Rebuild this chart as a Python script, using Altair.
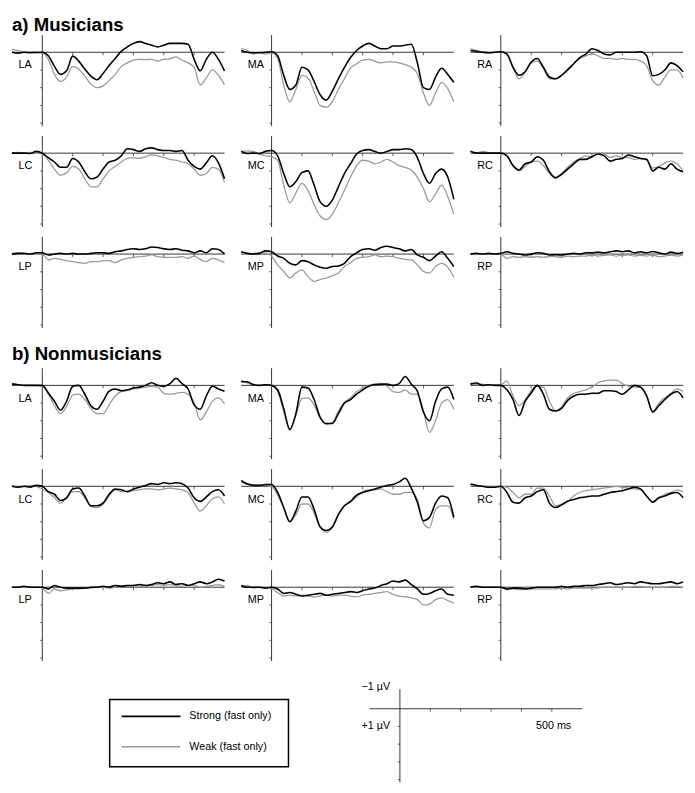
import altair as alt
import pandas as pd

FONT = "Liberation Sans"

# time axis (ms)
T = [-100, -80, -60, -40, -20, 0,
     20, 40, 60, 80, 100, 120, 140, 160, 180, 200,
     220, 240, 260, 280, 300, 320, 340, 360, 380, 400,
     420, 440, 460, 480, 500, 520, 540, 560, 580, 600]

# ---- a) Musicians (µV, negative plotted up) ----
A_LA_S = [0, 0.05, 0, 0.02, 0.02, 0,
          0.2, 0.8, 1.25, 1.05, 0.22, 0.5, 0.95, 1.35, 1.55, 1.2,
          0.75, 0.35, -0.05, -0.3, -0.5, -0.6, -0.5, -0.4, -0.3, -0.4,
          -0.5, -0.5, -0.5, -0.45, 0.4, 1.05, 0.4, 0, 0.4, 1.05]
A_LA_W = [-0.15, -0.1, 0, 0.03, 0, 0.03,
          0.4, 1.25, 1.65, 1.4, 0.8, 0.95, 1.35, 1.8, 2.0, 1.9,
          1.6, 1.25, 0.8, 0.6, 0.45, 0.4, 0.42, 0.4, 0.5, 0.4,
          0.37, 0.26, 0.45, 0.6, 0.85, 1.85, 1.45, 1.0, 1.3, 1.85]
A_MA_S = [-0.1, 0, 0.03, 0.03, 0, -0.03,
          0.2, 1.3, 2.1, 1.85, 0.85, 1.0, 1.65, 2.4, 2.7, 2.2,
          1.5, 0.85, 0.3, -0.1, -0.35, -0.5, -0.35, -0.2, -0.2, -0.35,
          -0.35, -0.4, -0.45, 0.6, 2.0, 2.1, 1.4, 0.9, 1.25, 1.7]
A_MA_W = [-0.2, -0.1, 0.1, 0, 0.1, 0.03,
          0.35, 1.85, 2.8, 2.1, 1.3, 1.45, 2.2, 3.0, 3.1, 2.8,
          2.1, 1.5, 0.9, 0.65, 0.45, 0.4, 0.5, 0.6, 0.55, 0.55,
          0.6, 0.7, 0.85, 1.2, 2.3, 3.0, 2.3, 1.7, 2.05, 2.8]
A_RA_S = [-0.1, -0.05, 0, 0.03, 0, -0.03,
          0.1, 0.85, 1.3, 1.1, 0.55, 0.35, 0.85, 1.4, 1.5, 1.3,
          1.0, 0.65, 0.3, 0.1, -0.2, -0.1, 0.1, 0.15, 0, 0,
          0, 0, -0.03, 0.2, 1.33, 1.25, 1.0, 0.6, 0.75, 1.1]
A_RA_W = [-0.2, -0.1, 0, 0.03, 0, 0,
          0.1, 0.85, 1.5, 1.1, 0.6, 0.5, 0.9, 1.5, 1.5, 1.3,
          0.95, 0.65, 0.35, 0.2, 0.1, 0.2, 0.35, 0.35, 0.4, 0.35,
          0.4, 0.4, 0.5, 0.75, 1.6, 1.85, 1.4, 1.0, 1.0, 1.45]
A_LC_S = [0, 0, 0, 0.02, -0.1, 0,
          0.25, 0.5, 0.8, 0.8, 0.3, 0.5, 1.05, 1.45, 1.35, 0.9,
          0.5, 0.4, 0.15, -0.25, -0.2, -0.1, -0.25, -0.3, -0.2, -0.15,
          -0.15, -0.1, -0.15, 0.4, 0.75, 0.9, 0.55, 0.15, 0.55, 1.45]
A_LC_W = [0, -0.05, 0, -0.05, 0, 0.05,
          0.4, 0.9, 1.25, 1.1, 0.75, 0.9, 1.45, 1.9, 1.9, 1.45,
          1.0, 0.75, 0.5, 0.3, 0.25, 0.3, 0.2, 0.1, 0.15, 0.25,
          0.35, 0.4, 0.5, 0.6, 0.9, 1.25, 1.15, 0.8, 0.9, 1.65]
A_MC_S = [-0.1, 0.02, 0, 0.02, -0.1, -0.15,
          0.15, 1.15, 1.9, 1.6, 1.1, 1.0, 1.8, 2.75, 3.0, 2.65,
          1.9, 1.15, 0.6, 0.05, -0.15, -0.2, -0.1, 0, -0.1, -0.2,
          -0.2, -0.25, -0.2, 0.25, 1.15, 1.7, 1.15, 0.9, 1.35, 2.6]
A_MC_W = [-0.1, -0.13, -0.1, 0.05, 0.15, 0.2,
          0.4, 1.8, 2.8, 2.25, 1.7, 2.1, 2.9, 3.55, 3.75, 3.45,
          2.8, 2.1, 1.35, 0.7, 0.4, 0.45, 0.6, 0.5, 0.35, 0.5,
          0.7, 0.8, 0.95, 1.35, 2.0, 2.75, 2.3, 1.8, 2.45, 3.45]
A_RC_S = [-0.1, 0, 0, 0, 0, 0,
          0.15, 0.7, 0.95, 0.6, 0.5, 0.2, 0.4, 1.05, 1.4, 1.2,
          0.9, 0.6, 0.35, 0.35, 0.2, 0.05, 0.15, 0.45, 0.35, 0.3,
          0.1, 0.2, 0.3, 0.35, 1.0, 0.8, 0.9, 0.6, 0.9, 1.05]
A_RC_W = [-0.13, -0.03, -0.1, -0.03, 0, 0,
          0.15, 0.75, 1.0, 0.75, 0.5, 0.45, 0.7, 1.15, 1.35, 1.15,
          0.8, 0.5, 0.3, 0.15, 0.2, 0, 0.05, 0.25, 0.15, 0.25,
          0.25, 0.35, 0.3, 0.4, 0.85, 0.75, 0.55, 0.45, 0.6, 1.0]
A_LP_S = [0, -0.04, -0.04, 0, -0.07, -0.07,
          0.05, 0, -0.04, 0, -0.04, 0, 0, -0.04, -0.07, -0.07,
          -0.04, -0.13, -0.18, -0.26, -0.3, -0.26, -0.3, -0.4, -0.37, -0.3,
          -0.26, -0.3, -0.22, -0.18, -0.07, -0.18, -0.07, -0.3, -0.26, 0]
A_LP_W = [-0.04, -0.07, 0, -0.04, 0, 0,
          0.33, 0.24, 0.3, 0.37, 0.43, 0.48, 0.52, 0.43, 0.43, 0.37,
          0.37, 0.48, 0.33, 0.24, 0.18, 0.15, 0.11, 0.05, 0.15, 0.18,
          0.18, 0.18, 0.15, 0.24, 0.11, 0.3, 0.43, 0.24, 0.33, 0.48]
A_MP_S = [-0.13, -0.04, 0, -0.04, -0.18, -0.13,
          0.11, 0.24, 0.52, 0.61, 0.37, 0.43, 0.61, 0.74, 0.8, 0.7,
          0.67, 0.52, 0.15, -0.07, -0.26, -0.3, -0.22, -0.37, -0.44, -0.37,
          -0.3, -0.18, -0.26, 0.05, 0.18, 0.37, 0.11, -0.13, 0.24, 0.7]
A_MP_W = [-0.07, 0, -0.04, -0.07, -0.07, 0.11,
          0.61, 0.98, 1.35, 1.07, 0.89, 1.26, 1.54, 1.44, 1.35, 1.22,
          1.07, 0.7, 0.48, 0.24, 0.18, 0.15, 0.05, 0.15, 0.11, 0.15,
          0.24, 0.3, 0.33, 0.61, 0.98, 1.07, 0.7, 0.52, 0.74, 1.3]
A_RP_S = [0, -0.04, 0, -0.04, 0, -0.04,
          -0.13, -0.04, 0, 0.05, 0, -0.07, -0.04, 0.05, 0.04, 0.05,
          0, -0.04, 0, -0.07, -0.07, -0.11, -0.07, -0.13, -0.18, -0.13,
          -0.18, -0.07, -0.13, -0.07, -0.15, -0.07, 0, -0.11, -0.04, -0.11]
A_RP_W = [0, 0, 0, 0, 0, 0,
          0.24, 0.15, 0.18, 0.15, 0.18, 0.15, 0.18, 0.15, 0.15, 0.18,
          0.11, 0.15, 0.11, 0.11, 0.07, 0.11, 0.07, 0.05, 0.11, 0.07,
          0.05, 0.11, 0.07, 0.11, 0.05, 0.15, 0.11, 0.07, 0.11, 0.04]

# ---- b) Nonmusicians ----
B_LA_S = [-0.07, -0.04, 0, 0, 0, 0,
          0.43, 0.9, 1.4, 0.9, 0.05, 0, 0.5, 1.15, 1.35, 0.9,
          0.33, 0.2, 0.3, 0.25, 0.15, 0.1, 0, -0.15, 0, 0.05,
          -0.1, -0.4, -0.1, 0.2, 1.1, 1.35, 0.6, 0.05, 0.2, 0.33]
B_LA_W = [-0.13, -0.04, 0, 0, 0, 0.05,
          0.5, 1.15, 1.6, 1.2, 0.55, 0.5, 0.8, 1.3, 1.6, 1.6,
          1.1, 0.6, 0.35, 0.3, 0.2, 0.15, 0.1, 0.05, 0.1, 0.45,
          0.5, 0.45, 0.4, 0.5, 1.0, 1.95, 1.5, 0.9, 0.7, 1.05]
B_MA_S = [-0.2, -0.2, -0.04, 0, -0.04, 0,
          0.25, 1.3, 2.5, 1.6, 0.1, 0.15, 0.8, 1.8, 2.15, 2.15,
          1.6, 1.0, 0.8, 0.5, 0.25, 0.05, -0.05, -0.07, -0.07, 0,
          -0.1, -0.5, -0.07, 0.33, 1.5, 2.0, 0.9, 0.2, 0.1, 0.8]
B_MA_W = [-0.3, -0.13, -0.07, 0, -0.04, 0,
          0.35, 1.5, 2.5, 1.7, 0.75, 0.7, 1.1, 1.85, 2.2, 2.1,
          1.45, 0.95, 0.7, 0.35, 0.15, 0, -0.07, -0.04, 0.05, 0.35,
          0.4, 0.25, 0.5, 0.5, 1.45, 2.65, 2.0, 1.0, 0.8, 1.35]
B_RA_S = [-0.07, -0.13, 0, -0.04, 0, 0,
          0.25, 0.8, 1.7, 0.9, 0.43, 0, 0.5, 1.35, 1.45, 1.3,
          0.85, 0.6, 0.5, 0.5, 0.45, 0.45, 0.3, 0.3, 0.35, 0.5,
          0.25, 0, 0.1, 0.6, 1.5, 1.15, 0.8, 0.5, 0.35, 0.7]
B_RA_W = [-0.13, -0.04, -0.07, 0, -0.04, -0.04,
          -0.25, 0.6, 1.15, 0.8, 0.3, 0.05, 0.1, 0.9, 1.45, 1.2,
          0.7, 0.45, 0.35, 0.25, 0.1, -0.15, -0.25, -0.3, -0.3, -0.1,
          0.05, 0.1, 0.1, 0.55, 1.5, 1.0, 0.7, 0.45, 0.2, 0.35]
B_LC_S = [0, 0.05, 0, 0.05, -0.05, 0,
          0.3, 0.45, 0.8, 0.65, 0.15, 0.1, 0.55, 1.1, 1.1, 0.95,
          0.45, 0.15, 0.2, 0.3, 0.15, 0.05, -0.05, -0.15, -0.1, -0.2,
          -0.15, -0.2, -0.15, 0.1, 0.65, 0.85, 0.6, 0.3, 0.2, 0.55]
B_LC_W = [-0.05, 0.05, 0, -0.05, 0, 0.15,
          0.35, 0.65, 0.95, 0.65, 0.3, 0.3, 0.65, 1.15, 1.2, 1.0,
          0.55, 0.2, 0.3, 0.3, 0.25, 0.2, 0.15, 0.15, 0.2, 0.15,
          0.1, 0.15, 0.2, 0.35, 0.95, 1.4, 1.1, 0.7, 0.6, 1.0]
B_MC_S = [-0.3, -0.13, -0.05, -0.05, -0.1, -0.1,
          0.35, 1.2, 2.0, 1.4, 0.6, 0.6, 1.3, 2.3, 2.5, 2.3,
          1.6, 1.1, 0.85, 0.5, 0.35, 0.25, 0.15, 0.05, -0.05, -0.1,
          -0.25, -0.45, 0.1, 0.9, 1.95, 1.75, 0.95, 0.55, 0.65, 1.75]
B_MC_W = [-0.35, -0.15, -0.1, -0.05, -0.05, 0,
          0.5, 1.2, 2.0, 1.6, 1.0, 1.0, 1.5, 2.3, 2.6, 2.3,
          1.6, 1.1, 0.9, 0.6, 0.3, 0.2, 0.2, 0.15, 0.3, 0.45,
          0.45, 0.35, 0.35, 0.75, 2.1, 2.35, 1.3, 1.1, 1.1, 1.85]
B_RC_S = [-0.13, -0.05, 0, 0.05, 0.05, 0,
          0.35, 0.9, 0.95, 0.65, 0.55, 0.3, 0.2, 0.95, 1.2, 1.05,
          0.85, 0.75, 0.65, 0.6, 0.55, 0.55, 0.45, 0.35, 0.3, 0.25,
          0.15, 0.05, 0.15, 0.55, 0.9, 0.65, 0.55, 0.4, 0.35, 0.65]
B_RC_W = [-0.1, -0.05, 0, 0, 0.05, 0,
          0.05, 0.35, 0.65, 0.45, 0.45, 0.1, 0.1, 0.55, 1.1, 1.0,
          0.85, 0.55, 0.35, 0.25, 0.2, 0.15, 0.1, 0.05, 0, 0.05,
          0.1, 0.15, 0.2, 0.55, 0.85, 0.65, 0.45, 0.35, 0.2, 0.3]
B_LP_S = [0, 0, -0.05, 0, 0, 0,
          0.1, -0.1, 0, 0.05, 0.05, 0.05, 0.05, 0, 0, -0.05,
          0, -0.1, -0.05, -0.1, -0.1, -0.15, -0.1, -0.15, -0.25, -0.2,
          -0.3, -0.15, -0.2, -0.1, -0.2, -0.3, -0.2, -0.3, -0.45, -0.35]
B_LP_W = [0, 0, 0, 0, 0, 0.05,
          0.35, 0.1, 0.2, 0.15, 0.1, 0.1, 0.05, 0.05, 0, 0,
          0.05, 0, -0.05, -0.05, -0.1, -0.05, -0.1, -0.1, -0.15, -0.1,
          -0.15, -0.1, -0.05, -0.1, -0.1, 0, -0.05, -0.1, -0.15, -0.05]
B_MP_S = [-0.1, 0, 0, 0, 0.05, 0,
          0.1, 0.35, 0.3, 0.4, 0.5, 0.45, 0.4, 0.35, 0.45, 0.4,
          0.35, 0.3, 0.25, 0.3, 0.2, 0.1, 0.05, -0.1, -0.2, -0.35,
          -0.3, -0.4, -0.15, 0.1, 0.4, 0.35, 0.2, 0.1, 0.4, 0.45]
B_MP_W = [0, -0.1, 0.05, 0, 0, 0.05,
          0.3, 0.5, 0.45, 0.5, 0.45, 0.5, 0.55, 0.5, 0.45, 0.5,
          0.45, 0.45, 0.5, 0.55, 0.45, 0.4, 0.35, 0.3, 0.25, 0.4,
          0.5, 0.55, 0.6, 0.7, 1.0, 0.95, 0.7, 0.6, 0.75, 0.9]
B_RP_S = [0, -0.05, 0, 0, 0, 0,
          0.1, 0.05, 0.05, 0.1, 0.05, 0, 0, 0, 0, -0.05,
          0, -0.05, -0.05, -0.1, -0.1, -0.15, -0.2, -0.25, -0.15, -0.2,
          -0.25, -0.2, -0.3, -0.25, -0.2, -0.2, -0.25, -0.3, -0.2, -0.3]
B_RP_W = [0, 0, 0, 0, 0, 0,
          0.15, 0.1, 0.15, 0.1, 0.1, 0.1, 0.1, 0.1, 0.1, 0.05,
          0.1, 0.05, 0.05, 0.05, 0.05, 0.05, 0, 0, 0, 0,
          0, -0.05, -0.05, 0, 0, 0, 0, -0.05, -0.05, 0]

SITES = [["LA", "MA", "RA"], ["LC", "MC", "RC"], ["LP", "MP", "RP"]]
SERIES = {
    "a": {"LA": (A_LA_S, A_LA_W), "MA": (A_MA_S, A_MA_W), "RA": (A_RA_S, A_RA_W),
          "LC": (A_LC_S, A_LC_W), "MC": (A_MC_S, A_MC_W), "RC": (A_RC_S, A_RC_W),
          "LP": (A_LP_S, A_LP_W), "MP": (A_MP_S, A_MP_W), "RP": (A_RP_S, A_RP_W)},
    "b": {"LA": (B_LA_S, B_LA_W), "MA": (B_MA_S, B_MA_W), "RA": (B_RA_S, B_RA_W),
          "LC": (B_LC_S, B_LC_W), "MC": (B_MC_S, B_MC_W), "RC": (B_RC_S, B_RC_W),
          "LP": (B_LP_S, B_LP_W), "MP": (B_MP_S, B_MP_W), "RP": (B_RP_S, B_RP_W)},
}
GROUP_TITLES = {"a": "a) Musicians", "b": "b) Nonmusicians"}
COND_LABELS = ["Strong (fast only)", "Weak (fast only)"]
COND_COLORS = ["#000000", "#9a9a9a"]
COND_WIDTHS = [1.6, 1.3]
X_TICKS = [100, 200, 300, 400, 500]
Y_TICKS = [1, 2, 3, 4]
SCALE_LABELS = ["\u22121 \u00b5V", "+1 \u00b5V", "500 ms"]

XS = alt.Scale(domain=[-100, 600], nice=False, zero=False)
PW, PH = 217, 94
PX_PER_UV = PH / 5.2
AXC = "#333333"


def X(f):
    return alt.X(f, type="quantitative", scale=XS, axis=None)


def make_y(top):
    ys = alt.Scale(domain=[top, 4.2], nice=False, zero=False, reverse=True)

    def Y(f):
        return alt.Y(f, type="quantitative", scale=ys, axis=None)
    return Y


def frame(Y, vtop):
    h = alt.Chart(pd.DataFrame({"x": [-100], "x2": [600], "y": [0]})).mark_rule(
        color=AXC, strokeWidth=1).encode(x=X("x"), x2="x2", y=Y("y"))
    v = alt.Chart(pd.DataFrame({"x": [0], "y": [vtop], "y2": [4.17]})).mark_rule(
        color=AXC, strokeWidth=1).encode(x=X("x"), y=Y("y"), y2="y2")
    xt = alt.Chart(pd.DataFrame({"x": X_TICKS, "y": [0] * len(X_TICKS),
                                 "y2": [0.17] * len(X_TICKS)})).mark_rule(
        color=AXC, strokeWidth=0.8).encode(x=X("x"), y=Y("y"), y2="y2")
    yt = alt.Chart(pd.DataFrame({"y": Y_TICKS, "x": [-7] * len(Y_TICKS),
                                 "x2": [0] * len(Y_TICKS)})).mark_rule(
        color=AXC, strokeWidth=0.8).encode(x=X("x"), x2="x2", y=Y("y"))
    return [h, v, xt, yt]


def panel(group, site):
    Y = make_y(-1)
    strong, weak = SERIES[group][site]
    layers = frame(Y, -0.97)
    for vals, col, w in [(weak, COND_COLORS[1], COND_WIDTHS[1]),
                         (strong, COND_COLORS[0], COND_WIDTHS[0])]:
        df = pd.DataFrame({"t": T, "v": vals})
        layers.append(alt.Chart(df).mark_line(color=col, strokeWidth=w,
                                              interpolate="monotone")
                      .encode(x=X("t"), y=Y("v")))
    lab = alt.Chart(pd.DataFrame({"t": [-78], "v": [0.75], "s": [site]})).mark_text(
        align="left", baseline="middle", fontSize=11, font=FONT, color="#000"
    ).encode(x=X("t"), y=Y("v"), text="s:N")
    layers.append(lab)
    return alt.layer(*layers).properties(width=PW, height=PH)


def spacer(w, h):
    return alt.Chart(pd.DataFrame({"s": [""]})).mark_text(fontSize=1).encode(
        x=alt.value(w / 2), y=alt.value(h / 2), text="s:N").properties(width=w, height=h)


def title_chart(text, h, ytop):
    return alt.Chart(pd.DataFrame({"s": [text]})).mark_text(
        align="left", baseline="top", fontSize=19, fontWeight="bold",
        font=FONT, color="#000").encode(
        x=alt.value(0), y=alt.value(ytop), text="s:N").properties(width=680, height=h)


def group_rows(group):
    rows = [alt.hconcat(*[panel(group, s) for s in row], spacing=17, bounds="flush")
            for row in SITES]
    return alt.vconcat(*rows, spacing=9)


# calibration panel: same µV scale, with 0.5 µV extra head-room for its label
SC_TOP = -1.5
SC_H = round(PX_PER_UV * (4.2 - SC_TOP))
Ysc = make_y(SC_TOP)
SCALE_TEXT = pd.DataFrame({"t": [-32, -32, 506], "v": [-1.2, 1.0, 1.0],
                           "s": SCALE_LABELS})
sc_layers = frame(Ysc, -1.1)
sc_layers.append(alt.Chart(SCALE_TEXT.iloc[:2]).mark_text(
    align="right", baseline="middle", fontSize=11, font=FONT, color="#000").encode(
    x=X("t"), y=Ysc("v"), text="s:N"))
sc_layers.append(alt.Chart(SCALE_TEXT.iloc[2:]).mark_text(
    align="center", baseline="middle", fontSize=11, font=FONT, color="#000").encode(
    x=X("t"), y=Ysc("v"), text="s:N"))
scale_panel = alt.layer(*sc_layers).properties(width=PW, height=SC_H)

# legend box, its top 17 px below the top of the calibration view
BOX_TOP = 17
leg_layers = [alt.Chart(pd.DataFrame({"s": ["box"]})).mark_rect(
    fill=None, stroke="#000", strokeWidth=1.5).encode(
    x=alt.value(0.75), x2=alt.value(183.25),
    y=alt.value(BOX_TOP + 0.75), y2=alt.value(BOX_TOP + 69.25))]
for i, (lab, col, w) in enumerate(zip(COND_LABELS, COND_COLORS, COND_WIDTHS)):
    ypix = BOX_TOP + [18, 49][i]
    d = pd.DataFrame({"s": [lab]})
    leg_layers.append(alt.Chart(d).mark_rule(color=col, strokeWidth=w + 0.2).encode(
        x=alt.value(13), x2=alt.value(73), y=alt.value(ypix)))
    leg_layers.append(alt.Chart(d).mark_text(
        align="left", baseline="middle", fontSize=11, font=FONT, color="#000").encode(
        x=alt.value(82), y=alt.value(ypix), text="s:N"))
legend = alt.layer(*leg_layers).properties(width=184, height=BOX_TOP + 70)

bottom = alt.hconcat(spacer(99, 10), legend, spacer(82, 10), scale_panel,
                     spacing=0, bounds="flush")

chart = alt.vconcat(
    title_chart(GROUP_TITLES["a"], 18, 0),
    group_rows("a"),
    title_chart(GROUP_TITLES["b"], 40, 17),
    group_rows("b"),
    spacer(10, 20),
    bottom,
    spacing=0,
).properties(padding=0, background="white").configure_view(stroke=None)

chart.save("out.html", embed_options={"renderer": "svg", "actions": False})
